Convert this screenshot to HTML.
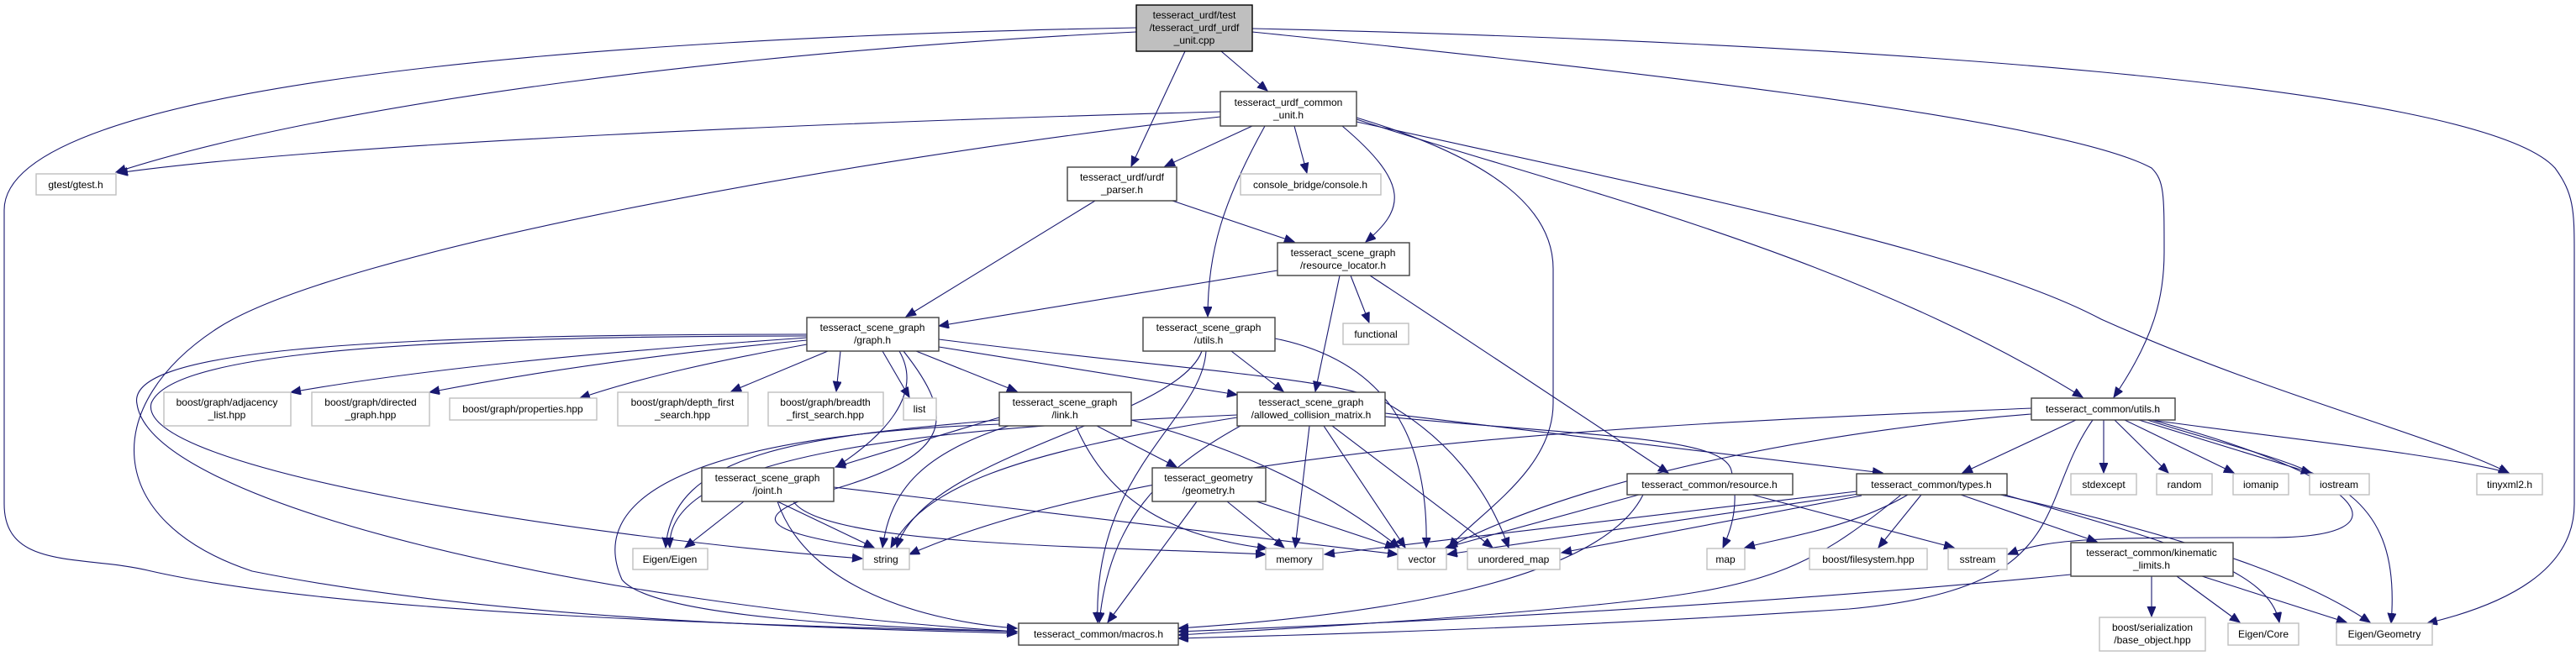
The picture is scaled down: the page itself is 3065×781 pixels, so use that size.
<!DOCTYPE html>
<html><head><meta charset="utf-8"><style>
html,body{margin:0;padding:0;background:#fff;}
svg{display:block;}
text{font-family:"Liberation Sans",Arial,sans-serif;font-size:12px;fill:#000;}
.n{fill:#fff;stroke:#404040;stroke-width:1.4;}
.g{fill:#fff;stroke:#bfbfbf;stroke-width:1.4;}
.e{fill:none;stroke:#191970;stroke-width:1.1;}
</style></head><body>
<svg width="3065" height="781" viewBox="0 0 3065 781" xmlns="http://www.w3.org/2000/svg">
<defs><marker id="a" markerUnits="userSpaceOnUse" markerWidth="14" markerHeight="12" refX="12" refY="5" orient="auto"><path d="M0,0 L12,5 L0,10 z" fill="#191970" stroke="#191970"/></marker></defs>
<g class="e" marker-end="url(#a)">
<path d="M1352,38 C900,60 400,120 138,205"/>
<path d="M1352,33 C700,45 5,100 5,250 L5,600 C5,680 100,660 180,680 C400,730 900,745 1210,752"/>
<path d="M1410,61 L1346,198"/>
<path d="M1453,61 L1508,108"/>
<path d="M1490,34 C2200,50 2950,100 3040,200 C3062,230 3063,250 3063,300 L3063,600 C3063,680 2980,720 2888,742"/>
<path d="M1490,38 C1900,80 2450,140 2560,200 C2575,215 2575,230 2575,300 C2575,350 2565,400 2515,473"/>
<path d="M1452,133 C1000,145 400,170 140,206"/>
<path d="M1452,139 C1000,190 400,300 260,390 C120,480 120,620 300,680 C600,740 1000,748 1210,754"/>
<path d="M1490,150 L1386,198"/>
<path d="M1540,150 L1555,206"/>
<path d="M1597,150 C1680,220 1670,250 1625,288"/>
<path d="M1505,150 C1455,240 1437,300 1437,377"/>
<path d="M1614,140 C1780,190 1848,250 1848,320 L1848,480 C1848,560 1760,610 1724,652"/>
<path d="M1614,142 C1850,220 2200,300 2478,473"/>
<path d="M1614,145 C2000,230 2350,300 2500,380 C2700,470 2900,520 2985,563"/>
<path d="M1303,239 L1078,377"/>
<path d="M1395,239 L1540,288"/>
<path d="M1520,322 L1117,388"/>
<path d="M1607,328 L1629,384"/>
<path d="M1594,328 L1565,466"/>
<path d="M1630,328 L1985,563"/>
<path d="M960,402 C700,420 500,440 346,467"/>
<path d="M960,405 C800,420 650,440 511,467"/>
<path d="M960,410 C850,430 760,450 690,474"/>
<path d="M985,418 L870,466"/>
<path d="M1000,418 L995,466"/>
<path d="M1050,418 L1082,473"/>
<path d="M1090,418 L1210,466"/>
<path d="M1117,413 L1472,470"/>
<path d="M1117,404 C1400,440 1600,450 1650,480 C1720,520 1770,580 1795,652"/>
<path d="M960,400 C400,400 200,430 180,480 C160,560 700,640 1026,665"/>
<path d="M960,398 C400,398 150,420 163,481 C180,600 700,720 1210,752"/>
<path d="M1075,418 C1140,500 1130,540 1000,580 C900,610 880,630 1040,653"/>
<path d="M1070,418 C1100,470 1050,520 995,556"/>
<path d="M1189,497 L994,556"/>
<path d="M1189,500 C950,520 800,540 792,652"/>
<path d="M1200,507 C1100,540 1060,580 1050,652"/>
<path d="M1280,507 C1320,600 1400,640 1508,653"/>
<path d="M1346,500 C1500,540 1600,600 1665,652"/>
<path d="M1305,507 L1400,556"/>
<path d="M1189,505 C800,520 700,600 740,690 C780,740 1100,748 1210,752"/>
<path d="M1472,497 C1200,540 1100,580 1060,652"/>
<path d="M1472,494 C1100,510 790,540 797,652"/>
<path d="M1558,507 L1541,652"/>
<path d="M1575,507 L1672,652"/>
<path d="M1585,507 L1776,652"/>
<path d="M1476,507 C1380,560 1320,620 1308,741"/>
<path d="M1648,492 L2240,563"/>
<path d="M1648,496 C1900,520 2050,520 2060,560 C2070,600 2060,630 2050,652"/>
<path d="M1465,418 L1527,466"/>
<path d="M1517,403 C1650,430 1700,520 1697,652"/>
<path d="M1430,418 C1400,500 1100,540 1067,652"/>
<path d="M1435,418 C1430,500 1300,560 1306,741"/>
<path d="M885,597 L815,652"/>
<path d="M925,597 L1040,652"/>
<path d="M944,597 C980,650 1300,650 1506,660"/>
<path d="M992,580 L1663,660"/>
<path d="M925,597 C960,700 1100,740 1210,748"/>
<path d="M1460,597 L1528,652"/>
<path d="M1495,597 L1660,652"/>
<path d="M1424,597 L1318,741"/>
<path d="M1950,589 L1720,652"/>
<path d="M1955,589 C1900,700 1600,735 1402,748"/>
<path d="M2085,589 L2325,652"/>
<path d="M2209,585 L1576,660"/>
<path d="M2212,588 L1722,660"/>
<path d="M2215,590 L1858,658"/>
<path d="M2270,589 C2200,630 2120,640 2076,652"/>
<path d="M2286,589 L2235,652"/>
<path d="M2333,589 L2495,645"/>
<path d="M2385,589 C2600,650 2700,680 2712,741"/>
<path d="M2380,589 C2650,650 2760,700 2820,741"/>
<path d="M2262,589 C2150,680 2100,700 1900,720 C1700,740 1500,750 1402,756"/>
<path d="M2417,486 C2100,500 1400,520 1082,660"/>
<path d="M2417,493 C2200,510 1900,560 1722,652"/>
<path d="M2470,500 L2335,563"/>
<path d="M2503,500 L2503,563"/>
<path d="M2516,500 L2580,563"/>
<path d="M2528,500 L2658,563"/>
<path d="M2545,500 L2750,563"/>
<path d="M2560,500 C2700,520 2900,540 2985,563"/>
<path d="M2555,500 C2740,560 2860,560 2845,742"/>
<path d="M2560,500 C2820,570 2870,640 2700,640 C2500,640 2440,640 2389,660"/>
<path d="M2490,500 C2420,600 2470,700 2200,725 C1900,745 1600,755 1402,760"/>
<path d="M2464,684 C2100,720 1700,740 1402,752"/>
<path d="M2560,686 L2560,734"/>
<path d="M2590,686 L2665,741"/>
<path d="M2620,686 L2792,741"/>
</g>
<rect x="1352" y="6" width="138" height="55" fill="#bfbfbf" stroke="#000" stroke-width="1.4"/>
<text x="1421" y="22" text-anchor="middle">tesseract_urdf/test</text>
<text x="1421" y="37" text-anchor="middle">/tesseract_urdf_urdf</text>
<text x="1421" y="52" text-anchor="middle">_unit.cpp</text>
<g>
<rect class="g" x="43" y="207" width="95" height="25"/><text x="90" y="224" text-anchor="middle">gtest/gtest.h</text>
<rect class="n" x="1452" y="109" width="162" height="41"/><text x="1533" y="126" text-anchor="middle">tesseract_urdf_common</text><text x="1533" y="141" text-anchor="middle">_unit.h</text>
<rect class="n" x="1270" y="199" width="130" height="40"/><text x="1335" y="215" text-anchor="middle">tesseract_urdf/urdf</text><text x="1335" y="230" text-anchor="middle">_parser.h</text>
<rect class="g" x="1476" y="207" width="167" height="25"/><text x="1559" y="224" text-anchor="middle">console_bridge/console.h</text>
<rect class="n" x="1520" y="289" width="157" height="39"/><text x="1598" y="305" text-anchor="middle">tesseract_scene_graph</text><text x="1598" y="320" text-anchor="middle">/resource_locator.h</text>
<rect class="g" x="1598" y="385" width="78" height="25"/><text x="1637" y="402" text-anchor="middle">functional</text>
<rect class="n" x="960" y="378" width="157" height="40"/><text x="1038" y="394" text-anchor="middle">tesseract_scene_graph</text><text x="1038" y="409" text-anchor="middle">/graph.h</text>
<rect class="n" x="1360" y="378" width="157" height="40"/><text x="1438" y="394" text-anchor="middle">tesseract_scene_graph</text><text x="1438" y="409" text-anchor="middle">/utils.h</text>
<rect class="g" x="195" y="467" width="151" height="40"/><text x="270" y="483" text-anchor="middle">boost/graph/adjacency</text><text x="270" y="498" text-anchor="middle">_list.hpp</text>
<rect class="g" x="371" y="467" width="140" height="40"/><text x="441" y="483" text-anchor="middle">boost/graph/directed</text><text x="441" y="498" text-anchor="middle">_graph.hpp</text>
<rect class="g" x="535" y="474" width="175" height="26"/><text x="622" y="491" text-anchor="middle">boost/graph/properties.hpp</text>
<rect class="g" x="735" y="467" width="155" height="40"/><text x="812" y="483" text-anchor="middle">boost/graph/depth_first</text><text x="812" y="498" text-anchor="middle">_search.hpp</text>
<rect class="g" x="914" y="467" width="137" height="40"/><text x="982" y="483" text-anchor="middle">boost/graph/breadth</text><text x="982" y="498" text-anchor="middle">_first_search.hpp</text>
<rect class="g" x="1075" y="474" width="39" height="26"/><text x="1094" y="491" text-anchor="middle">list</text>
<rect class="n" x="1189" y="467" width="157" height="40"/><text x="1267" y="483" text-anchor="middle">tesseract_scene_graph</text><text x="1267" y="498" text-anchor="middle">/link.h</text>
<rect class="n" x="1472" y="467" width="176" height="40"/><text x="1560" y="483" text-anchor="middle">tesseract_scene_graph</text><text x="1560" y="498" text-anchor="middle">/allowed_collision_matrix.h</text>
<rect class="n" x="835" y="557" width="157" height="40"/><text x="913" y="573" text-anchor="middle">tesseract_scene_graph</text><text x="913" y="588" text-anchor="middle">/joint.h</text>
<rect class="n" x="1371" y="557" width="135" height="40"/><text x="1438" y="573" text-anchor="middle">tesseract_geometry</text><text x="1438" y="588" text-anchor="middle">/geometry.h</text>
<rect class="n" x="1936" y="564" width="197" height="25"/><text x="2034" y="581" text-anchor="middle">tesseract_common/resource.h</text>
<rect class="n" x="2209" y="564" width="179" height="25"/><text x="2298" y="581" text-anchor="middle">tesseract_common/types.h</text>
<rect class="n" x="2417" y="474" width="171" height="26"/><text x="2502" y="491" text-anchor="middle">tesseract_common/utils.h</text>
<rect class="g" x="2464" y="564" width="78" height="25"/><text x="2503" y="581" text-anchor="middle">stdexcept</text>
<rect class="g" x="2566" y="564" width="66" height="25"/><text x="2599" y="581" text-anchor="middle">random</text>
<rect class="g" x="2657" y="564" width="66" height="25"/><text x="2690" y="581" text-anchor="middle">iomanip</text>
<rect class="g" x="2748" y="564" width="71" height="25"/><text x="2783" y="581" text-anchor="middle">iostream</text>
<rect class="g" x="2947" y="564" width="78" height="25"/><text x="2986" y="581" text-anchor="middle">tinyxml2.h</text>
<rect class="g" x="753" y="653" width="89" height="25"/><text x="797" y="670" text-anchor="middle">Eigen/Eigen</text>
<rect class="g" x="1027" y="653" width="55" height="25"/><text x="1054" y="670" text-anchor="middle">string</text>
<rect class="g" x="1506" y="653" width="68" height="25"/><text x="1540" y="670" text-anchor="middle">memory</text>
<rect class="g" x="1663" y="653" width="58" height="25"/><text x="1692" y="670" text-anchor="middle">vector</text>
<rect class="g" x="1746" y="653" width="110" height="25"/><text x="1801" y="670" text-anchor="middle">unordered_map</text>
<rect class="g" x="2031" y="653" width="45" height="25"/><text x="2053" y="670" text-anchor="middle">map</text>
<rect class="g" x="2153" y="653" width="140" height="25"/><text x="2223" y="670" text-anchor="middle">boost/filesystem.hpp</text>
<rect class="g" x="2318" y="653" width="70" height="25"/><text x="2353" y="670" text-anchor="middle">sstream</text>
<rect class="n" x="2464" y="646" width="193" height="40"/><text x="2560" y="662" text-anchor="middle">tesseract_common/kinematic</text><text x="2560" y="677" text-anchor="middle">_limits.h</text>
<rect class="n" x="1212" y="742" width="190" height="26"/><text x="1307" y="759" text-anchor="middle">tesseract_common/macros.h</text>
<rect class="g" x="2498" y="735" width="126" height="40"/><text x="2561" y="751" text-anchor="middle">boost/serialization</text><text x="2561" y="766" text-anchor="middle">/base_object.hpp</text>
<rect class="g" x="2651" y="742" width="84" height="26"/><text x="2693" y="759" text-anchor="middle">Eigen/Core</text>
<rect class="g" x="2780" y="742" width="114" height="26"/><text x="2837" y="759" text-anchor="middle">Eigen/Geometry</text>
</g>
</svg>
</body></html>
